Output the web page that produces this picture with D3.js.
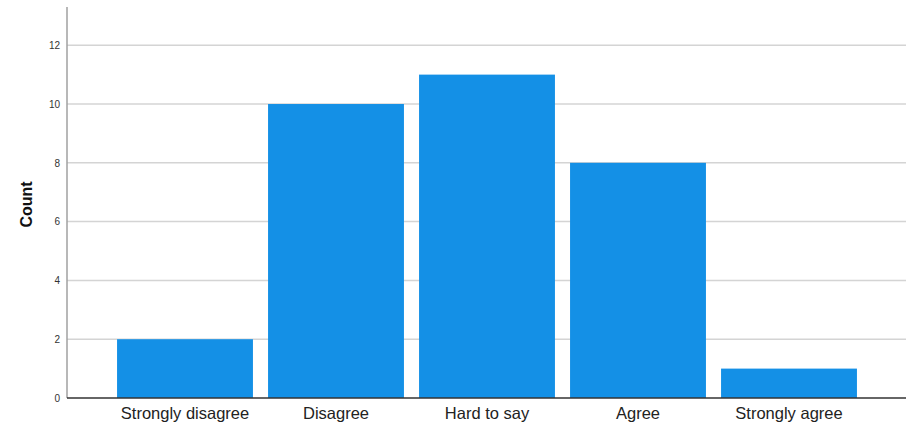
<!DOCTYPE html>
<html>
<head>
<meta charset="utf-8">
<script src="https://cdn.jsdelivr.net/npm/d3@7"></script>
<style>
  html, body { margin: 0; padding: 0; background: #fff; }
  svg { display: block; }
</style>
</head>
<body>
<svg id="chart" width="906" height="427"></svg>
<script>
// Response counts per answer category
const categories = ["Strongly disagree", "Disagree", "Hard to say", "Agree", "Strongly agree"];
const counts = [2, 10, 11, 8, 1];
const yTicks = [0, 2, 4, 6, 8, 10, 12];

const svg = d3.select("#chart");
const plot = { left: 67, right: 906, top: 7, bottom: 398 };

const y = d3.scaleLinear().domain([0, 13.3]).range([plot.bottom, plot.top]);
const x = d3.scaleBand()
  .domain(categories)
  .range([109.5, 864.5])
  .paddingInner(0.1)
  .paddingOuter(0.05);

// Horizontal gridlines
svg.append("g")
  .selectAll("line")
  .data(yTicks.filter(d => d > 0))
  .join("line")
  .attr("x1", plot.left)
  .attr("x2", plot.right)
  .attr("y1", d => y(d))
  .attr("y2", d => y(d))
  .attr("stroke", "#d4d4d4")
  .attr("stroke-width", 1.5);

// Bars
svg.append("g")
  .selectAll("rect")
  .data(categories)
  .join("rect")
  .attr("x", d => x(d))
  .attr("width", x.bandwidth())
  .attr("y", (d, i) => y(counts[i]))
  .attr("height", (d, i) => y(0) - y(counts[i]))
  .attr("fill", "#1490e6");

// Y axis
const yAxis = svg.append("g")
  .attr("transform", `translate(${plot.left},0)`)
  .call(d3.axisLeft(y).tickValues(yTicks).tickSize(0).tickPadding(7));
yAxis.select(".domain")
  .attr("d", `M0,${plot.top}V${plot.bottom}`)
  .attr("stroke", "#a0a0a0")
  .attr("stroke-width", 1.5);
yAxis.selectAll("text")
  .attr("font-family", "Arial, 'Liberation Sans', sans-serif")
  .attr("font-size", 10)
  .attr("fill", "#333");

// X axis
const xAxis = svg.append("g")
  .attr("transform", `translate(0,${plot.bottom})`)
  .call(d3.axisBottom(x).tickSize(0).tickPadding(9));
xAxis.select(".domain")
  .attr("d", `M${plot.left},0H${plot.right}`)
  .attr("stroke", "#333")
  .attr("stroke-width", 1.5);
xAxis.selectAll("text")
  .attr("font-family", "Arial, 'Liberation Sans', sans-serif")
  .attr("font-size", 16.5)
  .attr("fill", "#222");

// Y axis title
svg.append("text")
  .attr("transform", `translate(32,${(plot.top + plot.bottom) / 2 + 2}) rotate(-90)`)
  .attr("text-anchor", "middle")
  .attr("font-family", "'Liberation Sans Narrow', Arial, sans-serif")
  .attr("font-weight", "bold")
  .attr("font-size", 16)
  .attr("fill", "#111")
  .text("Count");
</script>
</body>
</html>
